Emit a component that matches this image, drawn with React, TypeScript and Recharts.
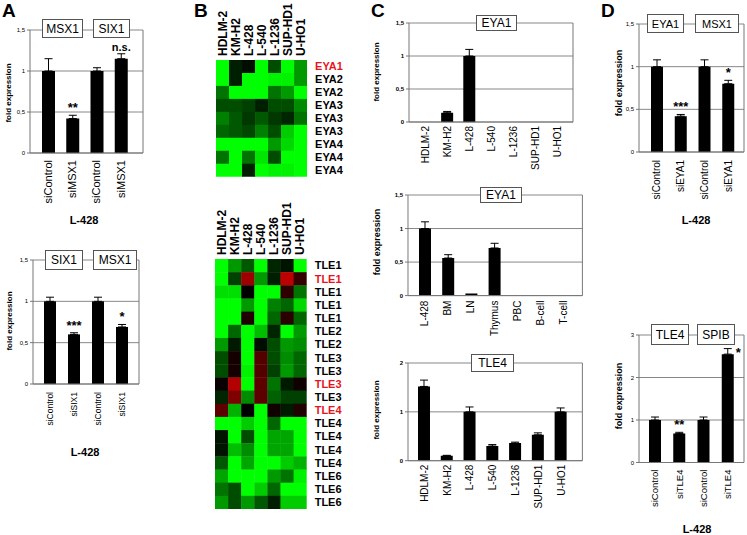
import React from 'react';
import {
  BarChart, Bar, XAxis, YAxis, CartesianGrid, ErrorBar, LabelList,
  ScatterChart, Scatter,
} from 'recharts';

const FONT = '"Liberation Sans", Arial, sans-serif';

// ---------- Panel A (top) ----------
const A1_CATS = ['siControl', 'siMSX1', 'siControl', 'siMSX1'];
const A1_VALS = [1.0, 0.42, 1.0, 1.15];
const A1_ERRS = [0.15, 0.04, 0.04, 0.06];
const A1_SIG = ['', '**', '', 'n.s.'];
const A1_BOXES = ['MSX1', 'SIX1'];

// ---------- Panel A (bottom) ----------
const A2_CATS = ['siControl', 'siSIX1', 'siControl', 'siSIX1'];
const A2_VALS = [1.0, 0.6, 1.0, 0.69];
const A2_ERRS = [0.05, 0.02, 0.05, 0.03];
const A2_SIG = ['', '***', '', '*'];
const A2_BOXES = ['SIX1', 'MSX1'];

// ---------- Panel C ----------
const CELL_LINES = ['HDLM-2', 'KM-H2', 'L-428', 'L-540', 'L-1236', 'SUP-HD1', 'U-HO1'];
const C1_VALS = [0, 0.14, 1.0, 0, 0, 0, 0];
const C1_ERRS = [0, 0.02, 0.1, 0, 0, 0, 0];
const C1_BOX = 'EYA1';

const TISSUES = ['L-428', 'BM', 'LN', 'Thymus', 'PBC', 'B-cell', 'T-cell'];
const C2_VALS = [1.0, 0.56, 0.03, 0.71, 0, 0, 0];
const C2_ERRS = [0.1, 0.05, 0, 0.07, 0, 0, 0];
const C2_BOX = 'EYA1';

const C3_VALS = [1.52, 0.1, 1.0, 0.3, 0.36, 0.53, 1.0];
const C3_ERRS = [0.13, 0.01, 0.1, 0.03, 0.02, 0.04, 0.08];
const C3_BOX = 'TLE4';

// ---------- Panel D ----------
const D1_CATS = ['siControl', 'siEYA1', 'siControl', 'siEYA1'];
const D1_VALS = [1.0, 0.42, 1.0, 0.8];
const D1_ERRS = [0.08, 0.02, 0.08, 0.04];
const D1_SIG = ['', '***', '', '*'];
const D1_BOXES = ['EYA1', 'MSX1'];

const D2_CATS = ['siControl', 'siTLE4', 'siControl', 'siTLE4'];
const D2_VALS = [1.0, 0.68, 1.0, 2.55];
const D2_ERRS = [0.07, 0.03, 0.07, 0.13];
const D2_SIG = ['', '**', '', '*'];
const D2_SIG_SIDE = [false, false, false, true];
const D2_BOXES = ['TLE4', 'SPIB'];

// ---------- Panel B heatmaps (-1 bright green, 0 black, +1 red) ----------
const HM_COLS = ['HDLM-2', 'KM-H2', 'L-428', 'L-540', 'L-1236', 'SUP-HD1', 'U-HO1'];
const HM1_LABELS = ['EYA1', 'EYA2', 'EYA2', 'EYA3', 'EYA3', 'EYA3', 'EYA4', 'EYA4', 'EYA4'];
const HM1_RED = [0];
const HM1_GRID = [
  [-1, -0.12, -0.05, -1, -0.3, -1, -0.6],
  [-1, -0.12, -1, -1, -0.95, -0.95, -0.6],
  [-0.45, -1, -1, -1, -0.45, -0.6, -1],
  [-0.3, -0.3, -0.25, -0.12, -0.3, -0.3, -0.55],
  [-0.5, -0.35, -0.22, -0.35, -0.22, -0.15, -0.45],
  [-0.4, -0.35, -0.28, -0.5, -0.3, -0.8, -1],
  [-1, -1, -1, -1, -0.6, -0.85, -1],
  [-0.45, -1, -0.45, -0.9, -0.3, -1, -1],
  [-1, -1, -0.12, -1, -0.95, -0.95, -1],
];
const HM2_LABELS = ['TLE1', 'TLE1', 'TLE1', 'TLE1', 'TLE1', 'TLE2', 'TLE2', 'TLE3', 'TLE3', 'TLE3', 'TLE3',
  'TLE4', 'TLE4', 'TLE4', 'TLE4', 'TLE4', 'TLE6', 'TLE6', 'TLE6'];
const HM2_RED = [1, 9, 11];
const HM2_GRID = [
  [-1, -0.6, -0.35, -1, -0.15, -0.08, -1],
  [-1, -0.25, 0.75, -0.6, -0.12, 0.9, 0.25],
  [-0.88, -0.88, 0, -1, -1, 0.22, -0.45],
  [-1, -1, -0.6, -1, -0.5, -0.4, -0.85],
  [-1, -1, 0.15, -1, -0.4, 0.2, -0.4],
  [-1, -0.4, -1, -0.75, -0.15, -1, -0.6],
  [-0.6, -0.1, -1, -0.05, -0.3, -0.6, -0.55],
  [-0.3, 0.1, -1, 0.4, -0.3, -0.55, -0.4],
  [-0.3, 0.1, -0.95, 0.4, -0.25, -0.6, -0.4],
  [0.05, 0.85, -1, 0.45, -0.45, -0.1, 0.08],
  [-0.15, 0.6, -0.55, 0.45, -0.38, -0.25, -0.25],
  [0.45, -0.7, 0, -1, 0.08, -0.1, 0.15],
  [-1, -1, -0.8, -1, -0.4, -1, -1],
  [-0.08, -1, -0.3, -1, -0.65, -0.65, -1],
  [-0.08, -0.75, -0.55, -1, -0.65, -0.65, -1],
  [-0.35, -1, -0.65, -1, -1, -0.8, -0.7],
  [-0.65, -1, -1, -1, -0.6, -0.45, -0.95],
  [-0.45, -0.3, -1, -0.8, -0.4, -1, -1],
  [-0.6, -0.3, -0.6, -0.35, -0.12, -0.8, -0.8],
];

const heatColor = (v: number) => {
  if (v < 0) return `rgb(0,${Math.round(255 * -v)},0)`;
  return `rgb(${Math.round(210 * v)},0,0)`;
};

type Plot = { l: number; t: number; r: number; b: number };

const RotTick = (props: any) => {
  const { x, y, payload, fs, gap } = props;
  return (
    <text transform={`translate(${x},${y + gap}) rotate(-90)`} textAnchor="end" dy="0.35em"
      fontSize={fs} fontFamily={FONT} fill="#000">{payload.value}</text>
  );
};

function BarPanel(props: {
  cats: string[]; vals: number[]; errs: number[]; sig?: string[]; sigSide?: boolean[];
  plot: Plot; max: number; ticks: number[]; barSize: number; padL: number; padR: number;
  fs: number; gap: number; tickBold?: boolean;
}) {
  const { cats, vals, errs, sig = [], sigSide = [], plot, max, ticks, barSize, padL, padR, fs, gap, tickBold } = props;
  const yw = 24, mt = 12, mr = 2, rw = 1, xh = 60;
  const left = plot.l - yw;
  const top = plot.t - mt;
  const W = plot.r + rw + mr - left;
  const H = plot.b + xh - top;
  const data = cats.map((cat, i) => ({
    cat, val: vals[i], err: errs[i] > 0 ? [0, errs[i]] : null, sig: sig[i] || '',
  }));
  const renderSig = (p: any) => {
    const vb = p.viewBox || {};
    const x = p.x ?? vb.x; const y = p.y ?? vb.y;
    const width = p.width ?? vb.width; const height = p.height ?? vb.height;
    const index = p.index;
    const value = p.value;
    if (!value || vals[index] <= 0) return null;
    const errTop = y - (height / vals[index]) * errs[index];
    if (sigSide[index]) {
      return <text x={x + width + 2} y={errTop + 8} fontSize={13} fontWeight="bold" fontFamily={FONT} fill="#000">{value}</text>;
    }
    return <text x={x + width / 2} y={errTop - 3} textAnchor="middle" fontSize={value === 'n.s.' ? 11 : 13}
      fontWeight="bold" fontFamily={FONT} fill="#000">{value}</text>;
  };
  return (
    <div style={{ position: 'absolute', left, top }}>
      <BarChart width={W} height={H} data={data} margin={{ top: mt, right: mr, left: 0, bottom: 0 }}>
        <CartesianGrid vertical={false} stroke="#888" />
        <XAxis dataKey="cat" interval={0} height={xh} tickLine={false} tickSize={0} tickMargin={0}
          axisLine={{ stroke: '#777' }} padding={{ left: padL, right: padR }}
          tick={(tp: any) => <RotTick {...tp} fs={fs} gap={gap} />} />
        <YAxis width={yw} domain={[0, max]} ticks={ticks} type="number" allowDataOverflow
          axisLine={{ stroke: '#777' }} tickLine={{ stroke: '#777' }} tickSize={3} tickMargin={2}
          tickFormatter={(v: number) => String(v).replace('.', ',')}
          tick={{ fontSize: 6, fill: '#000', fontFamily: FONT, fontWeight: tickBold ? 'bold' : 'normal' }} />
        <YAxis yAxisId="r" orientation="right" width={rw} domain={[0, max]} type="number"
          tick={false} tickLine={false} axisLine={{ stroke: '#777' }} />
        <Bar dataKey="val" fill="#000" barSize={barSize} isAnimationActive={false}>
          <ErrorBar dataKey="err" direction="y" width={4} stroke="#000" strokeWidth={1} />
          <LabelList dataKey="sig" content={renderSig} />
        </Bar>
      </BarChart>
    </div>
  );
}

function Heatmap(props: { grid: number[][]; labels: string[]; red: number[]; plot: Plot; headerH: number }) {
  const { grid, labels, red, plot, headerH } = props;
  const n = grid.length;
  const m = HM_COLS.length;
  const rightW = 50;
  const W = plot.r - plot.l + rightW;
  const H = plot.b - plot.t + headerH;
  const cw = (plot.r - plot.l) / m;
  const ch = (plot.b - plot.t) / n;
  const data = grid.flatMap((row, r) => row.map((v, c) => ({ c, r, v })));
  return (
    <div style={{ position: 'absolute', left: plot.l, top: plot.t - headerH }}>
      <ScatterChart width={W} height={H} margin={{ top: 0, right: 0, left: 0, bottom: 0 }}>
        <XAxis type="number" dataKey="c" orientation="top" domain={[-0.5, m - 0.5]}
          ticks={HM_COLS.map((_, i) => i)} interval={0} height={headerH} axisLine={false}
          tickLine={false} tickSize={0} tickMargin={0} allowDataOverflow
          tick={(tp: any) => (
            <text transform={`translate(${tp.x},${tp.y - 4}) rotate(-90)`} textAnchor="start" dy="0.35em"
              fontSize={12} fontWeight="bold" fontFamily={FONT} fill="#000">{HM_COLS[tp.payload.value]}</text>
          )} />
        <YAxis type="number" dataKey="r" orientation="right" reversed domain={[-0.5, n - 0.5]}
          ticks={labels.map((_, i) => i)} interval={0} width={rightW} axisLine={false}
          tickLine={false} tickSize={0} tickMargin={0} allowDataOverflow
          tick={(tp: any) => (
            <text x={tp.x + 8} y={tp.y} dy="0.35em" textAnchor="start" fontSize={11} fontWeight="bold"
              fontFamily={FONT} fill={red.includes(tp.payload.value) ? '#e8141c' : '#000'}>
              {labels[tp.payload.value]}
            </text>
          )} />
        <Scatter data={data} isAnimationActive={false}
          shape={(sp: any) => (
            <rect x={sp.cx - cw / 2} y={sp.cy - ch / 2} width={cw + 0.4} height={ch + 0.4}
              fill={heatColor(sp.payload.v)} />
          )} />
      </ScatterChart>
    </div>
  );
}

const Box = ({ x, y, w, h, text, fs = 12 }: any) => (
  <div style={{
    position: 'absolute', left: x, top: y, width: w, height: h, boxSizing: 'border-box',
    border: '1px solid #555', background: '#fff', fontFamily: FONT, fontSize: fs,
    display: 'flex', alignItems: 'center', justifyContent: 'center', color: '#000',
  }}>{text}</div>
);

const VTitle = ({ x, y, fs, text }: any) => (
  <div style={{
    position: 'absolute', left: x, top: y, transform: 'translate(-50%,-50%) rotate(-90deg)',
    whiteSpace: 'nowrap', fontFamily: FONT, fontWeight: 'bold', fontSize: fs, color: '#000', lineHeight: 1,
  }}>{text}</div>
);

const CText = ({ x, y, fs, text }: any) => (
  <div style={{
    position: 'absolute', left: x, top: y, transform: 'translate(-50%,-50%)', whiteSpace: 'nowrap',
    fontFamily: FONT, fontWeight: 'bold', fontSize: fs, color: '#000', lineHeight: 1,
  }}>{text}</div>
);

const Letter = ({ x, text }: any) => (
  <div style={{
    position: 'absolute', left: x, top: 1, fontFamily: FONT, fontWeight: 'bold', fontSize: 19,
    color: '#000', lineHeight: 1,
  }}>{text}</div>
);

export default function App() {
  return (
    <div style={{ position: 'absolute', left: 0, top: 0, width: 747, height: 535, background: '#fff', overflow: 'hidden' }}>
      <Letter x={2} text="A" />
      <Letter x={194} text="B" />
      <Letter x={371} text="C" />
      <Letter x={601} text="D" />

      {/* A top */}
      <BarPanel cats={A1_CATS} vals={A1_VALS} errs={A1_ERRS} sig={A1_SIG}
        plot={{ l: 30, t: 30, r: 143, b: 153 }} max={1.5} ticks={[0, 0.5, 1, 1.5]}
        barSize={13} padL={6} padR={10} fs={11} gap={7} />
      <Box x={42} y={19} w={41} h={19} text={A1_BOXES[0]} />
      <Box x={93} y={19} w={37} h={19} text={A1_BOXES[1]} />
      <VTitle x={9} y={93} fs={8} text="fold expression" />
      <CText x={84} y={220} fs={11} text="L-428" />

      {/* A bottom */}
      <BarPanel cats={A2_CATS} vals={A2_VALS} errs={A2_ERRS} sig={A2_SIG}
        plot={{ l: 33, t: 260, r: 139, b: 384 }} max={1.5} ticks={[0, 0.5, 1, 1.5]}
        barSize={12} padL={5} padR={5} fs={8.5} gap={8} />
      <Box x={45} y={250} w={38} h={20} text={A2_BOXES[0]} />
      <Box x={93} y={250} w={44} h={20} text={A2_BOXES[1]} />
      <VTitle x={10} y={321} fs={8} text="fold expression" />
      <CText x={85} y={452} fs={11} text="L-428" />

      {/* B heatmaps */}
      <Heatmap grid={HM1_GRID} labels={HM1_LABELS} red={HM1_RED}
        plot={{ l: 215.7, t: 60, r: 306.8, b: 176.7 }} headerH={60} />
      <Heatmap grid={HM2_GRID} labels={HM2_LABELS} red={HM2_RED}
        plot={{ l: 215.3, t: 259.3, r: 307, b: 509.3 }} headerH={62} />

      {/* C top */}
      <BarPanel cats={CELL_LINES} vals={C1_VALS} errs={C1_ERRS}
        plot={{ l: 409, t: 22.7, r: 573, b: 121.7 }} max={1.5} ticks={[0, 0.5, 1, 1.5]}
        barSize={12} padL={5} padR={4} fs={10} gap={4} tickBold />
      <Box x={476} y={15} w={41} h={16} text={C1_BOX} />
      <VTitle x={377} y={72} fs={8} text="fold expression" />

      {/* C middle */}
      <BarPanel cats={TISSUES} vals={C2_VALS} errs={C2_ERRS}
        plot={{ l: 408.3, t: 194.7, r: 582.7, b: 295.3 }} max={1.5} ticks={[0, 0.5, 1, 1.5]}
        barSize={12} padL={5} padR={7} fs={10} gap={5} tickBold />
      <Box x={480} y={187} w={42} h={16} text={C2_BOX} />
      <VTitle x={377} y={242} fs={9} text="fold expression" />

      {/* C bottom */}
      <BarPanel cats={CELL_LINES} vals={C3_VALS} errs={C3_ERRS}
        plot={{ l: 408.3, t: 363, r: 582.7, b: 460.7 }} max={2} ticks={[0, 1, 2]}
        barSize={12} padL={5} padR={10} fs={10} gap={4} tickBold />
      <Box x={471} y={354} w={43} h={18} text={C3_BOX} />
      <VTitle x={377} y={410} fs={8} text="fold expression" />

      {/* D top */}
      <BarPanel cats={D1_CATS} vals={D1_VALS} errs={D1_ERRS} sig={D1_SIG}
        plot={{ l: 639, t: 24, r: 744, b: 152 }} max={1.5} ticks={[0, 0.5, 1, 1.5]}
        barSize={12} padL={6} padR={4} fs={10} gap={8} />
      <Box x={647} y={14} w={37} h={19} text={D1_BOXES[0]} fs={11} />
      <Box x={695} y={14} w={44} h={19} text={D1_BOXES[1]} fs={11} />
      <VTitle x={619} y={83} fs={9} text="fold expression" />
      <CText x={696} y={220} fs={11} text="L-428" />

      {/* D bottom */}
      <BarPanel cats={D2_CATS} vals={D2_VALS} errs={D2_ERRS} sig={D2_SIG} sigSide={D2_SIG_SIDE}
        plot={{ l: 639, t: 334.5, r: 744, b: 462 }} max={3} ticks={[0, 1, 2, 3]}
        barSize={12} padL={4} padR={4} fs={9.5} gap={7} />
      <Box x={651} y={324} w={38} h={21} text={D2_BOXES[0]} />
      <Box x={697} y={324} w={38} h={21} text={D2_BOXES[1]} />
      <VTitle x={619} y={396} fs={9} text="fold expression" />
      <CText x={697} y={529} fs={11} text="L-428" />
    </div>
  );
}
